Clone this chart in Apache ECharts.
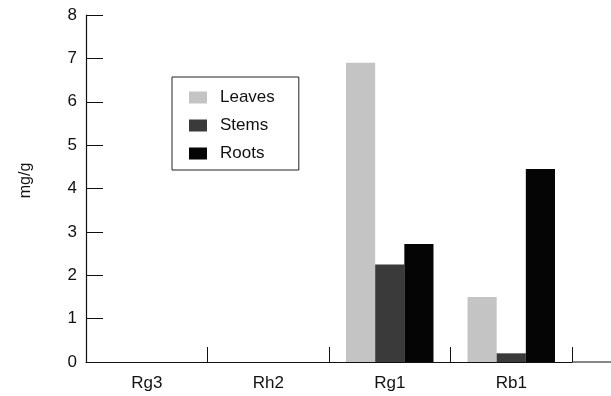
<!DOCTYPE html>
<html>
<head>
<meta charset="utf-8">
<script src="https://cdn.jsdelivr.net/npm/echarts@6/dist/echarts.min.js"></script>
<style>
  html, body { margin: 0; padding: 0; background: #fff; }
  #chart { width: 611px; height: 396px; }
</style>
</head>
<body>
<div id="chart"></div>
<script>
// ginsenoside content by tissue
var categories = ['Rg3', 'Rh2', 'Rg1', 'Rb1'];
var leaves = [0, 0, 6.9, 1.5];
var stems = [0, 0, 2.25, 0.2];
var roots = [0, 0, 2.72, 4.45];
var yTicks = [0, 1, 2, 3, 4, 5, 6, 7, 8];

var chart = echarts.init(document.getElementById('chart'));
var font = 'Liberation Sans, Arial, sans-serif';
var gridLeft = 86, gridRight = 39, gridTop = 15, gridBottom = 34;

chart.setOption({
    animation: false,
    backgroundColor: '#fff',
    textStyle: { fontFamily: font },
    grid: { left: gridLeft, top: gridTop, right: gridRight, bottom: gridBottom },
    // the baseline in the original runs on to the page edge
    graphic: [{
        type: 'line',
        shape: { x1: 611 - gridRight, y1: 396 - gridBottom, x2: 611, y2: 396 - gridBottom },
        style: { stroke: '#111', lineWidth: 1.2 }
    }],
    legend: {
        orient: 'vertical',
        left: 172,
        top: 77,
        data: ['Leaves', 'Stems', 'Roots'],
        borderColor: '#222',
        borderWidth: 1,
        borderRadius: 0,
        padding: [12, 24, 8, 17],
        itemWidth: 18,
        itemHeight: 12,
        itemGap: 11,
        icon: 'rect',
        textStyle: { fontSize: 17, color: '#111', padding: [0, 0, 0, 8] }
    },
    xAxis: {
        type: 'category',
        data: categories,
        axisLine: { lineStyle: { color: '#111', width: 1.2 } },
        axisTick: { show: true, inside: true, length: 15, interval: 0, lineStyle: { color: '#111' } },
        axisLabel: { fontSize: 17, color: '#111', margin: 13 }
    },
    yAxis: {
        type: 'value',
        min: yTicks[0],
        max: yTicks[yTicks.length - 1],
        interval: 1,
        name: 'mg/g',
        nameLocation: 'middle',
        nameGap: 52,
        nameRotate: 90,
        nameTextStyle: { fontSize: 16, color: '#111', padding: [0, 0, 0, 16] },
        splitLine: { show: false },
        axisLine: { show: true, lineStyle: { color: '#111', width: 1.2 } },
        axisTick: { show: true, inside: true, length: 17, lineStyle: { color: '#111' } },
        axisLabel: { fontSize: 17, color: '#111', margin: 9 }
    },
    series: [{
        name: 'Leaves',
        type: 'bar',
        barGap: '0%',
        barCategoryGap: '28%',
        itemStyle: { color: '#c4c4c4' },
        data: leaves
    }, {
        name: 'Stems',
        type: 'bar',
        itemStyle: { color: '#3a3a3a' },
        data: stems
    }, {
        name: 'Roots',
        type: 'bar',
        itemStyle: { color: '#050505' },
        data: roots
    }]
});
</script>
</body>
</html>
